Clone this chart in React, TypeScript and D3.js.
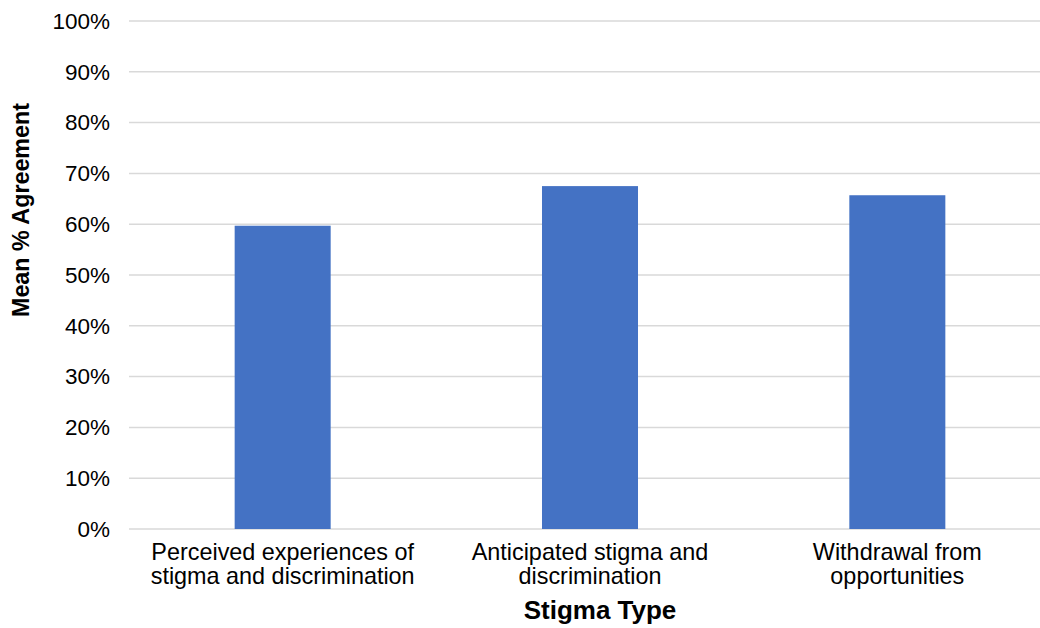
import React from "react";
import * as d3 from "d3";

const categories: string[][] = [
  ["Perceived experiences of", "stigma and discrimination"],
  ["Anticipated stigma and", "discrimination"],
  ["Withdrawal from", "opportunities"],
];
const values: number[] = [0.597, 0.675, 0.657];
const yTicks: number[] = [0, 0.1, 0.2, 0.3, 0.4, 0.5, 0.6, 0.7, 0.8, 0.9, 1.0];
const yTitle = "Mean % Agreement";
const xTitle = "Stigma Type";

const W = 1040;
const H = 628;
const FONT = "'Liberation Sans', Arial, Helvetica, sans-serif";

export default function App() {
  const x = d3
    .scaleBand<number>()
    .domain(categories.map((_, i) => i))
    .range([129, 1051])
    .paddingInner(0.6876)
    .paddingOuter(0.3438);
  const y = d3.scaleLinear().domain([0, 1]).range([529, 21]);
  const fmt = d3.format(".0%");

  return (
    <svg
      width={W}
      height={H}
      style={{ position: "absolute", left: 0, top: 0, display: "block", background: "#fff" }}
      fontFamily={FONT}
    >
      {yTicks.map((t) => (
        <g key={t}>
          <line x1={129} x2={1051} y1={y(t)} y2={y(t)} stroke="#D9D9D9" strokeWidth={1.5} />
          <text x={110} y={y(t)} dy="0.35em" textAnchor="end" fontSize={22.5} fill="#000">
            {fmt(t)}
          </text>
        </g>
      ))}
      {values.map((v, i) => (
        <rect
          key={i}
          x={x(i)}
          y={y(v)}
          width={x.bandwidth()}
          height={y(0) - y(v)}
          fill="#4472C4"
        />
      ))}
      {categories.map((lines, i) => (
        <text
          key={i}
          x={(x(i) as number) + x.bandwidth() / 2}
          y={560}
          textAnchor="middle"
          fontSize={23.4}
          fill="#000"
        >
          {lines.map((l, j) => (
            <tspan key={j} x={(x(i) as number) + x.bandwidth() / 2} dy={j === 0 ? 0 : 23.5}>
              {l}
            </tspan>
          ))}
        </text>
      ))}
      <text
        transform={`translate(29,210) rotate(-90)`}
        textAnchor="middle"
        fontSize={23.3}
        fontWeight="bold"
        fill="#000"
      >
        {yTitle}
      </text>
      <text x={600} y={619} textAnchor="middle" fontSize={26} fontWeight="bold" fill="#000">
        {xTitle}
      </text>
    </svg>
  );
}
